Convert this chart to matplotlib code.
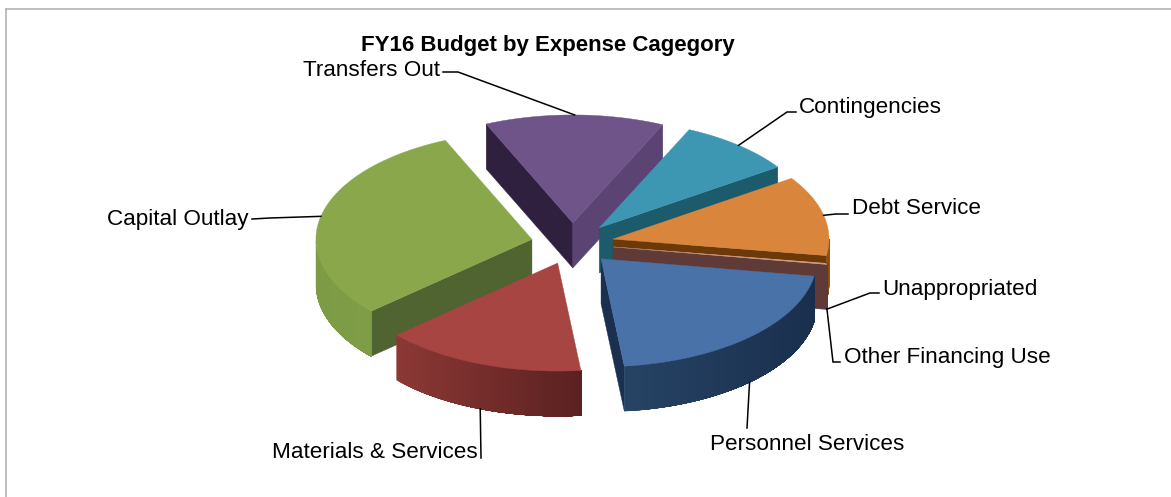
import numpy as np
import matplotlib
matplotlib.use("Agg")
import matplotlib.pyplot as plt
from matplotlib.colors import to_rgb

plt.rcParams['font.family'] = ['Liberation Sans', 'DejaVu Sans']

title = "FY16 Budget by Expense Cagegory"

# share of budget in percent, clockwise from the start angle
categories = ["Personnel Services", "Materials & Services", "Capital Outlay", "Transfers Out",
              "Contingencies", "Debt Service", "Other Financing Use", "Unappropriated"]
values = [20.7, 15.1, 30.05, 13.4, 8.65, 11.95, 0.08, 0.07]

# pie geometry, in pixels of the picture
start_angle = -9.3
cx, cy = 572.5, 243.7
radius = 216
squash = 0.5
explode = 41.5
depth = 45

# top, radial face, rim left, rim right
colors = {
    "Personnel Services": ("#4872A8", "#1B3050", "#264364", "#1A2F4E"),
    "Materials & Services": ("#A64541", "#7A2F2C", "#8C3835", "#5A2120"),
    "Capital Outlay": ("#8AA74C", "#4F6430", "#7D9A45", "#7F9C47"),
    "Transfers Out": ("#6E5489", "#5B4374", "#5B4374", "#5B4374"),
    "Contingencies": ("#3E97B2", "#1B5B6B", "#1B5B6B", "#1B5B6B"),
    "Debt Service": ("#D9853B", "#6B3A08", "#8A4D14", "#8A4D14"),
    "Other Financing Use": ("#D9A088", "#5F3A36", "#5F3A36", "#5F3A36"),
    "Unappropriated": ("#D9A088", "#5F3A36", "#5F3A36", "#5F3A36"),
}
# two faces of the Transfers wedge differ, the left one is much darker
dark_left = "#30203F"

# label x, label y, ha, elbow points from the rim outwards
labels = {
    "Personnel Services": (807, 444, "center", [(747, 428)]),
    "Materials & Services": (272, 453, "left", [(481, 458)]),
    "Capital Outlay": (107, 219, "left", [(270, 218), (252, 219)]),
    "Transfers Out": (303, 71, "left", [(458, 72), (443, 72)]),
    "Contingencies": (799, 108, "left", [(787, 112), (796, 112)]),
    "Debt Service": (852, 208, "left", [(836, 214), (848, 214)]),
    "Other Financing Use": (844, 357, "left", [(833, 362), (840, 362)]),
    "Unappropriated": (882, 289, "left", [(870, 293), (879, 293)]),
}


def project(px, py, theta, r=radius, z=0):
    return px + r * np.cos(theta), py - r * squash * np.sin(theta) + z


def mix(c0, c1, t):
    a, b = np.array(to_rgb(c0)), np.array(to_rgb(c1))
    return tuple(a + (b - a) * t)


fig = plt.figure(figsize=(11.71, 4.97), dpi=100)
ax = fig.add_axes([0, 0, 1, 1])
ax.set_xlim(0, 1171)
ax.set_ylim(497, 0)
ax.axis("off")

ax.plot([5.5, 5.5], [497, 8.5], color="#B3B3B3", lw=1.2)
ax.plot([5.5, 1171], [8.5, 8.5], color="#B3B3B3", lw=1.2)

# wedge angles
total = sum(values)
sweeps = np.radians(np.array(values) / total * 360)
hi = np.radians(start_angle) - np.concatenate([[0], np.cumsum(sweeps)[:-1]])
lo = hi - sweeps
mid = (hi + lo) / 2
apex_x = cx + explode * np.cos(mid)
apex_y = cy - explode * squash * np.sin(mid)


def face(xs, ys, color):
    ax.fill(xs, ys, facecolor=color, edgecolor=color, lw=0.3)


# back wedges first
for i in np.argsort(-np.sin(mid)):
    name = categories[i]
    top, side, rim0, rim1 = colors[name]
    ax0, ay0 = apex_x[i], apex_y[i]

    # radial faces that look towards the viewer
    for ang, normal in ((hi[i], hi[i] + np.pi / 2), (lo[i], lo[i] - np.pi / 2)):
        if np.sin(normal) < 0:
            x1, y1 = project(ax0, ay0, ang)
            c = side
            if name == "Transfers Out" and ang == hi[i]:
                c = dark_left
            face([ax0, x1, x1, ax0], [ay0, y1, y1 + depth, ay0 + depth], c)

    # rim, only the part at the front. each strip runs to the end of the rim so no seams show
    th = np.linspace(lo[i], hi[i], 60)
    th = th[np.sin(th) < 0]
    if len(th) > 1:
        xs, ys = project(ax0, ay0, th)
        span = max(xs.max() - xs.min(), 1)
        for j in range(len(th) - 1):
            t = (xs[j] - xs.min()) / span
            face(np.r_[xs[j:], xs[j:][::-1]], np.r_[ys[j:], ys[j:][::-1] + depth], mix(rim0, rim1, t))

    # top
    th = np.linspace(lo[i], hi[i], 80)
    xs, ys = project(ax0, ay0, th)
    face(np.r_[ax0, xs], np.r_[ay0, ys], top)

# leaders and labels
for i, name in enumerate(categories):
    lx, ly, ha, elbows = labels[name]
    x0, y0 = project(apex_x[i], apex_y[i], mid[i])
    if np.sin(mid[i]) < 0:
        y0 += depth
    ax.plot([x0] + [p[0] for p in elbows], [y0] + [p[1] for p in elbows], color="black", lw=1.1,
            solid_joinstyle="miter")
    ax.text(lx, ly, name, ha=ha, va="center", fontsize=16.2, color="black")

ax.text(547.5, 46, title, ha="center", va="center", fontsize=16, fontweight="bold", color="black")

fig.savefig("out.png", dpi=100)
